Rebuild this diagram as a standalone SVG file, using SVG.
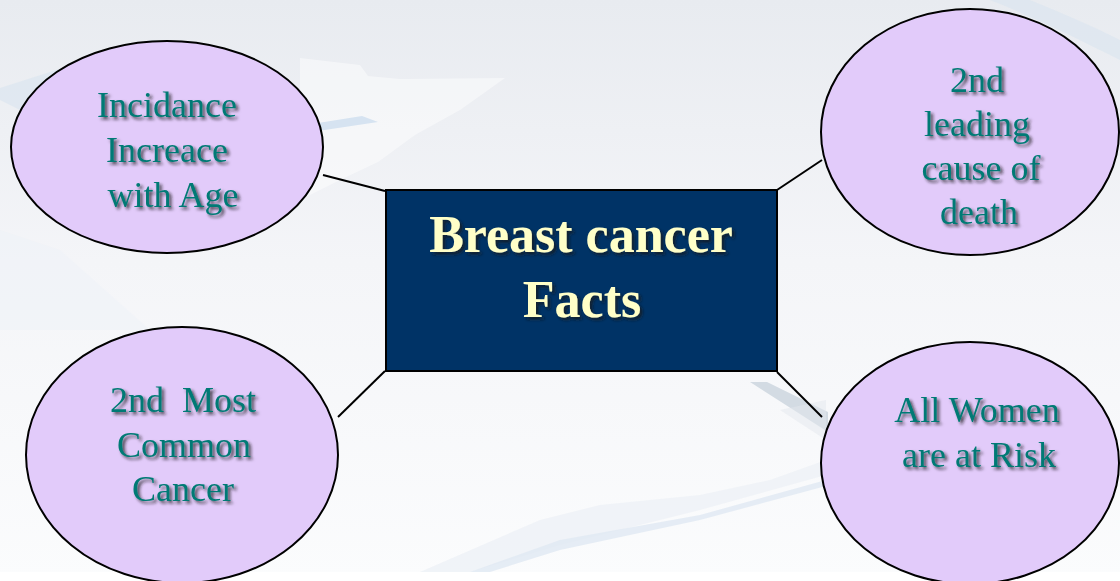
<svg xmlns="http://www.w3.org/2000/svg" width="1120" height="581" viewBox="0 0 1120 581">
<defs>
<linearGradient id="bg" x1="0" y1="0" x2="0" y2="1">
<stop offset="0" stop-color="#E8EBF0"/>
<stop offset="0.45" stop-color="#F4F5F8"/>
<stop offset="1" stop-color="#FBFCFD"/>
</linearGradient>
<filter id="sh" x="-10%" y="-20%" width="130%" height="150%">
<feDropShadow dx="2.5" dy="2.5" stdDeviation="1.4" flood-color="#1a1a1a" flood-opacity="0.75"/>
</filter>
</defs>
<style>
.bubble{fill:#E2CBFA;stroke:#000;stroke-width:2}
.lbl{font-family:"Liberation Serif","Times New Roman",serif;font-size:36px;fill:#007A74;text-anchor:middle;filter:url(#sh)}
.title{font-family:"Liberation Serif","Times New Roman",serif;font-size:52px;font-weight:bold;fill:#FFFFC8;text-anchor:middle;filter:url(#sh)}
.conn line{stroke:#000;stroke-width:2}
</style>
<rect width="1120" height="581" fill="url(#bg)"/>
<g id="background" stroke="none">
<polygon points="0,100 0,88 150,40 160,40 20,110" fill="#DCE6F0" opacity="0.7"/>
<polygon points="300,58 360,65 368,76 400,79 505,78 460,110 415,135 378,162 340,180 300,200" fill="#FFFFFF" opacity="0.45"/>
<polygon points="318,123 362,116 378,122 318,131" fill="#D6E3F1"/>
<polygon points="0,230 60,250 150,330 0,330" fill="#EEF2F7" opacity="0.5"/>
<polygon points="750,382 767,382 828,412 828,432" fill="#D3DBE3"/>
<polygon points="540,520 600,505 700,495 770,480 826,460 826,475 700,510 560,545 470,572 420,572" fill="#EDF1F6" opacity="0.8"/>
<polygon points="470,572 560,540 700,515 790,490 826,480 826,486 700,520 560,550 490,572" fill="#E0E8F2" opacity="0.8"/>
<path d="M990,0 C1040,20 1080,40 1120,60 L1120,40 C1090,25 1060,12 1030,0 Z" fill="#DCE6F0" opacity="0.7"/>
<polygon points="780,410 826,440 826,400" fill="#E3E8EE" opacity="0.5"/>
<rect x="0" y="572" width="1120" height="9" fill="#FFFFFF"/>
</g>
<g id="connectors" class="conn">
<line x1="323" y1="175" x2="385" y2="191"/>
<line x1="777" y1="190" x2="822" y2="160"/>
<line x1="385" y1="371" x2="338" y2="417"/>
<line x1="777" y1="372" x2="822" y2="417"/>
</g>
<g id="center">
<rect x="386" y="190" width="391" height="181" fill="#003366" stroke="#000" stroke-width="2"/>
<text class="title" x="581" y="252">Breast cancer</text>
<text class="title" x="582" y="317">Facts</text>
</g>
<g id="node-incidence">
<ellipse class="bubble" cx="167" cy="147" rx="156" ry="106"/>
<text class="lbl" x="167" y="117">Incidance</text>
<text class="lbl" x="167" y="162">Increace</text>
<text class="lbl" x="173" y="207">with Age</text>
</g>
<g id="node-death">
<ellipse class="bubble" cx="970" cy="132" rx="149" ry="123"/>
<text class="lbl" x="977" y="92">2nd</text>
<text class="lbl" x="977" y="136">leading</text>
<text class="lbl" x="981" y="180">cause of</text>
<text class="lbl" x="979" y="224">death</text>
</g>
<g id="node-common">
<ellipse class="bubble" cx="182" cy="455" rx="156" ry="128"/>
<text class="lbl" x="183" y="412" xml:space="preserve">2nd  Most</text>
<text class="lbl" x="184" y="457">Common</text>
<text class="lbl" x="183" y="501">Cancer</text>
</g>
<g id="node-risk">
<ellipse class="bubble" cx="970" cy="463" rx="149" ry="121"/>
<text class="lbl" x="977" y="422">All Women</text>
<text class="lbl" x="979" y="467">are at Risk</text>
</g>
</svg>
